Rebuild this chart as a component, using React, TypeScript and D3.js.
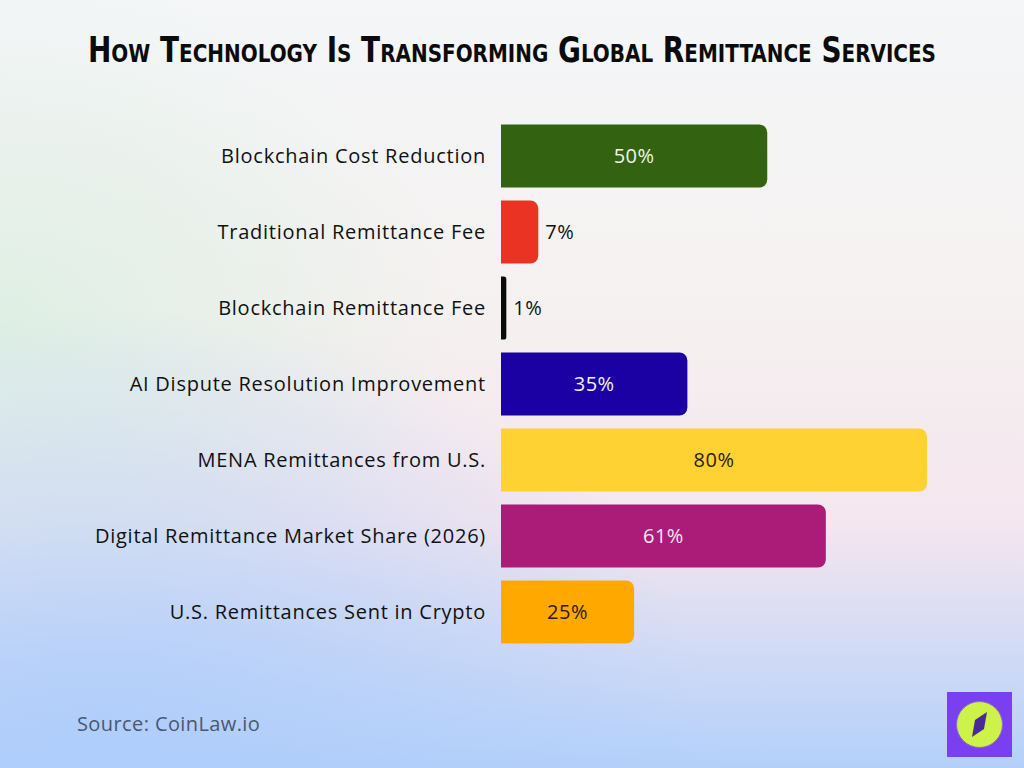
import * as d3 from 'd3';
import { useEffect, useRef } from 'react';

const categories = [
  'Blockchain Cost Reduction',
  'Traditional Remittance Fee',
  'Blockchain Remittance Fee',
  'AI Dispute Resolution Improvement',
  'MENA Remittances from U.S.',
  'Digital Remittance Market Share (2026)',
  'U.S. Remittances Sent in Crypto',
];
const values = [50, 7, 1, 35, 80, 61, 25];
const barColors = ['#336311', '#ea3323', '#0a0a0a', '#1b00a3', '#ffd233', '#aa1c78', '#ffa800'];
const labelColors = ['#f3f3e8', '#111111', '#111111', '#f3f3f3', '#2a1a10', '#f8e8f4', '#2a1a10'];

const W = 1024;
const H = 768;
const FONT = '"Open Sans", Inter, sans-serif';

function barPath(x0: number, y0: number, w: number, h: number, r: number) {
  const rr = Math.min(r, w / 2, h / 2);
  const p = d3.path();
  p.moveTo(x0, y0);
  p.lineTo(x0 + w - rr, y0);
  p.arcTo(x0 + w, y0, x0 + w, y0 + rr, rr);
  p.lineTo(x0 + w, y0 + h - rr);
  p.arcTo(x0 + w, y0 + h, x0 + w - rr, y0 + h, rr);
  p.lineTo(x0, y0 + h);
  p.closePath();
  return p.toString();
}

export default function App() {
  const svgRef = useRef<SVGSVGElement>(null);

  useEffect(() => {
    if (!svgRef.current) return;
    const svg = d3.select(svgRef.current);
    svg.selectAll('*').remove();

    const defs = svg.append('defs');
    const lg = defs.append('linearGradient').attr('id', 'bg').attr('x1', 0).attr('y1', 0).attr('x2', 0).attr('y2', 1);
    lg.append('stop').attr('offset', '0%').attr('stop-color', '#f4f6f8');
    lg.append('stop').attr('offset', '40%').attr('stop-color', '#f5f1f0');
    lg.append('stop').attr('offset', '68%').attr('stop-color', '#f4e6ee');
    lg.append('stop').attr('offset', '100%').attr('stop-color', '#b3d0fa');

    const rg = defs.append('radialGradient').attr('id', 'green').attr('cx', 0).attr('cy', 0.42).attr('r', 0.45);
    rg.append('stop').attr('offset', '0%').attr('stop-color', '#dcefe3').attr('stop-opacity', 0.9);
    rg.append('stop').attr('offset', '100%').attr('stop-color', '#dcefe3').attr('stop-opacity', 0);

    const rb = defs.append('radialGradient').attr('id', 'blue').attr('cx', 0.1).attr('cy', 1).attr('r', 0.6);
    rb.append('stop').attr('offset', '0%').attr('stop-color', '#aecdfb').attr('stop-opacity', 0.9);
    rb.append('stop').attr('offset', '100%').attr('stop-color', '#aecdfb').attr('stop-opacity', 0);

    svg.append('rect').attr('width', W).attr('height', H).attr('fill', 'url(#bg)');
    svg.append('rect').attr('width', W).attr('height', H).attr('fill', 'url(#green)');
    svg.append('rect').attr('width', W).attr('height', H).attr('fill', 'url(#blue)');

    svg.append('text')
      .attr('x', 512).attr('y', 62)
      .attr('text-anchor', 'middle')
      .attr('font-family', '"DejaVu Sans Condensed", "Liberation Sans Narrow", sans-serif')
      .attr('font-weight', 'bold')
      .attr('font-size', 35)
      .attr('font-variant', 'small-caps')
      .attr('textLength', 848)
      .attr('lengthAdjust', 'spacingAndGlyphs')
      .attr('fill', '#0b0b0b')
      .text('How Technology Is Transforming Global Remittance Services');

    const x = d3.scaleLinear().domain([0, 80]).range([501, 927]);
    const y = d3.scaleBand<string>().domain(categories).range([118, 650]).paddingInner(0.17).paddingOuter(0.085);

    const g = svg.append('g');
    categories.forEach((c, i) => {
      const v = values[i];
      const yy = y(c)!;
      const bw = x(v) - x(0);
      const bh = y.bandwidth();
      g.append('path')
        .attr('d', barPath(x(0), yy, bw, bh, 8))
        .attr('fill', barColors[i]);

      g.append('text')
        .attr('x', 486).attr('y', yy + bh / 2)
        .attr('dy', '0.35em')
        .attr('text-anchor', 'end')
        .attr('font-family', FONT)
        .attr('font-size', 20)
        .attr('letter-spacing', 0.75)
        .attr('fill', '#111')
        .text(c);

      const inside = v >= 20;
      g.append('text')
        .attr('x', inside ? x(0) + bw / 2 : x(v) + 7)
        .attr('y', yy + bh / 2)
        .attr('dy', '0.35em')
        .attr('text-anchor', inside ? 'middle' : 'start')
        .attr('font-family', FONT)
        .attr('font-size', 20)
        .attr('letter-spacing', 0.5)
        .attr('fill', labelColors[i])
        .text(`${v}%`);
    });

    svg.append('text')
      .attr('x', 77).attr('y', 731)
      .attr('font-family', FONT)
      .attr('font-size', 20)
      .attr('letter-spacing', 0.4)
      .attr('fill', '#4a5870')
      .text('Source: CoinLaw.io');

    const logo = svg.append('g').attr('transform', 'translate(947,692)');
    logo.append('rect').attr('width', 65).attr('height', 65).attr('fill', '#7a3ff0');
    logo.append('circle').attr('cx', 32.5).attr('cy', 32.5).attr('r', 23).attr('fill', '#cdf24a').attr('stroke', '#8a6ad8').attr('stroke-width', 1);
    logo.append('path').attr('d', 'M40,20 L37,37 L25,45 L28,28 Z').attr('fill', '#4a2a9a');
  }, []);

  return <svg ref={svgRef} width={W} height={H} style={{ display: 'block', position: 'absolute', left: 0, top: 0 }} />;
}
